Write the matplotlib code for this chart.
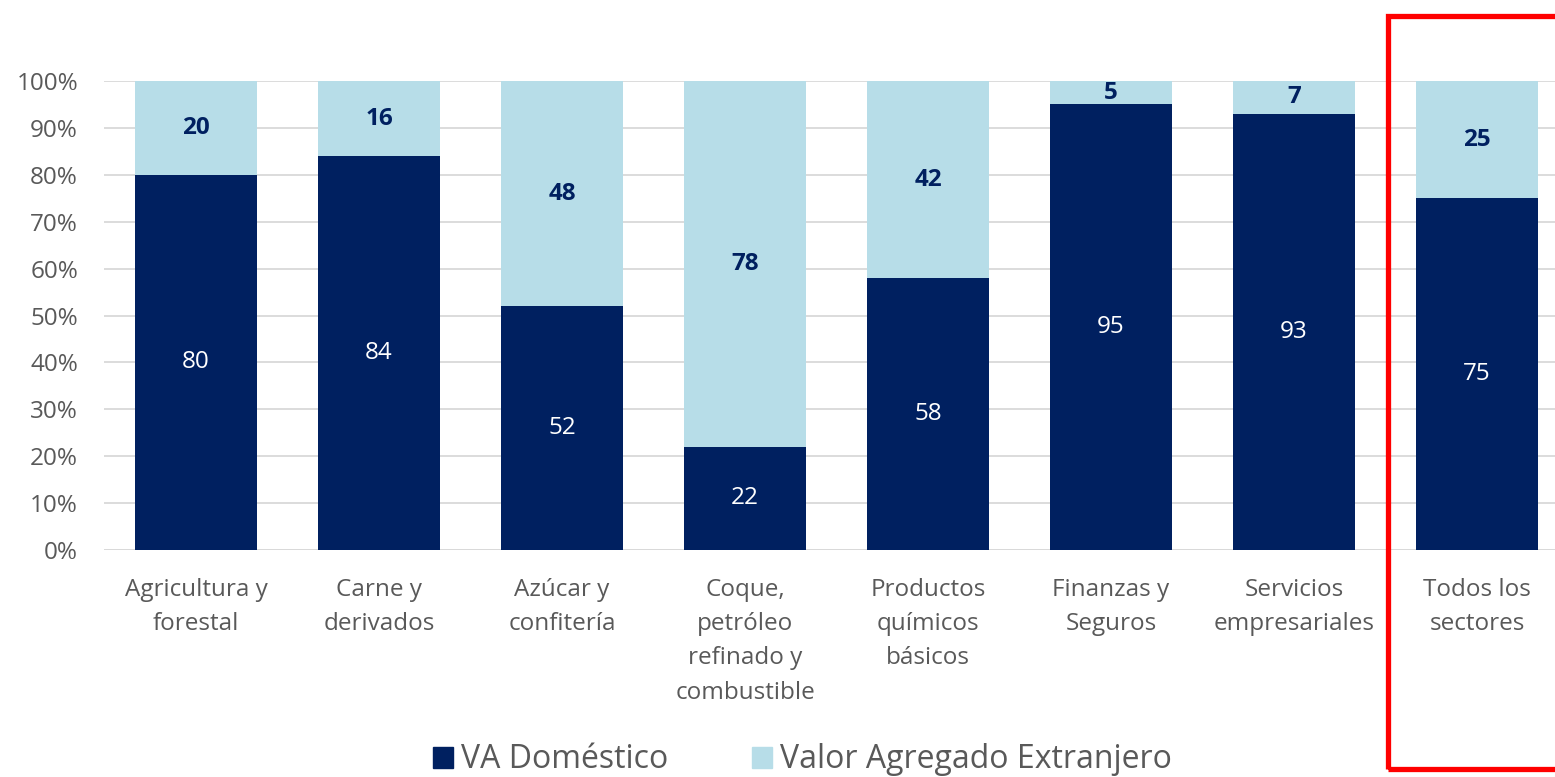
import matplotlib; matplotlib.use("Agg")
import matplotlib.pyplot as plt
from matplotlib.patches import Rectangle, Patch
import numpy as np

plt.rcParams['font.family'] = ['Open Sans', 'DejaVu Sans']

sectores = ["Agricultura y\nforestal", "Carne y\nderivados", "Azúcar y\nconfitería",
            "Coque,\npetróleo\nrefinado y\ncombustible", "Productos\nquímicos\nbásicos",
            "Finanzas y\nSeguros", "Servicios\nempresariales", "Todos los\nsectores"]
va_domestico = [80, 84, 52, 22, 58, 95, 93, 75]
va_extranjero = [20, 16, 48, 78, 42, 5, 7, 25]

NAVY = "#002060"; LIGHT = "#b7dde8"; GRAY = "#595959"

fig = plt.figure(figsize=(15.55, 7.77), dpi=100)
ax = fig.add_axes([0.0672, 0.2921, 0.9415, 0.6036])
x = np.arange(len(sectores))
w = 0.667
ax.bar(x, va_domestico, w, color=NAVY, zorder=2)
ax.bar(x, va_extranjero, w, bottom=va_domestico, color=LIGHT, zorder=2)

for xi, d, e in zip(x, va_domestico, va_extranjero):
    ax.text(xi, d/2, f"{d}", ha='center', va='center', color='white', fontsize=17.5, zorder=3)
    ax.text(xi, d + e/2, f"{e}", ha='center', va='center', color=NAVY, fontsize=17.5,
            fontweight='bold', zorder=3)

ax.set_xlim(-0.5, len(sectores) - 0.5)
ax.set_ylim(0, 100)
ax.set_yticks(np.arange(0, 101, 10))
ax.set_yticklabels([f"{v}%" for v in range(0, 101, 10)])
ax.set_xticks(x)
ax.set_xticklabels(sectores, linespacing=1.57)
ax.tick_params(axis='both', length=0, labelsize=17.5, labelcolor=GRAY)
ax.tick_params(axis='x', pad=20)
ax.tick_params(axis='y', pad=19)
ax.yaxis.grid(True, color="#d9d9d9", lw=1.3, zorder=0)
ax.set_axisbelow(True)
for s in ax.spines.values():
    s.set_visible(False)
ax.axhline(0, color="#d9d9d9", lw=1.3, zorder=1)

handles = [Patch(color=NAVY, label="VA Doméstico"), Patch(color=LIGHT, label="Valor Agregado Extranjero")]
leg = fig.legend(handles=handles, loc='center', bbox_to_anchor=(0.516, 0.022), ncol=2, frameon=False,
                 fontsize=23, handlelength=0.65, handleheight=0.65, handletextpad=0.25, columnspacing=2.6)
for t in leg.get_texts():
    t.set_color(GRAY)

fig.patches.append(Rectangle((0.8926, 0.0103), 0.2, 0.9687, transform=fig.transFigure,
                             fill=False, edgecolor='#ff0000', lw=3.8, clip_on=False))

fig.savefig("out.png", dpi=100)
